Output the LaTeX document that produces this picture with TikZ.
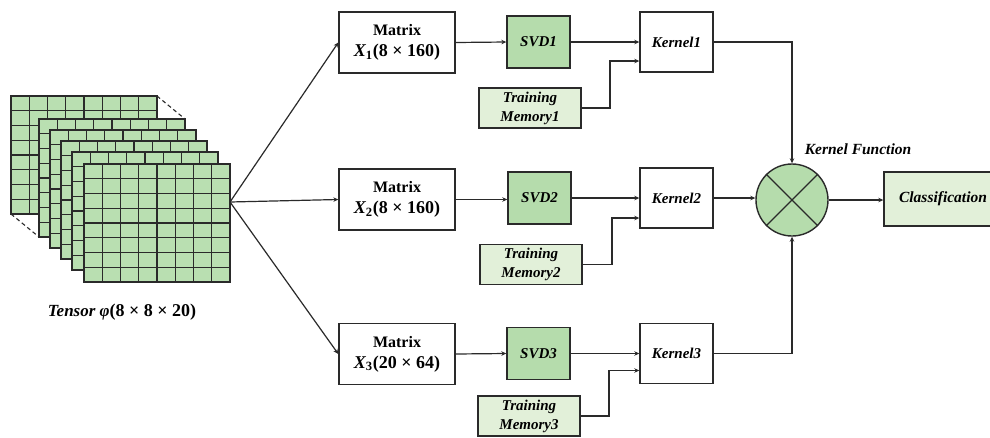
\documentclass[tikz,border=0pt]{standalone}
\usepackage{fontspec}
\setmainfont{Liberation Serif}
\usetikzlibrary{arrows.meta}

\definecolor{svdgreen}{HTML}{B5DCAC}
\definecolor{memgreen}{HTML}{E2F0D9}
\definecolor{cellgreen}{HTML}{B9DFB1}
\definecolor{edgegray}{HTML}{2A2A2A}

\tikzset{
  boxbase/.style={draw=edgegray, line width=1.4pt, rectangle, align=center,
    inner sep=0pt, font=\fontsize{15}{20}\selectfont\bfseries},
  matbox/.style={boxbase, fill=white, minimum width=116pt, minimum height=61pt,
    font=\fontsize{16}{21}\selectfont\bfseries},
  svdbox/.style={boxbase, fill=svdgreen, minimum width=63pt, minimum height=52pt,
    font=\fontsize{15}{20}\selectfont\bfseries\itshape},
  kerbox/.style={boxbase, fill=white, minimum width=73pt, minimum height=60pt,
    font=\fontsize{15}{20}\selectfont\bfseries\itshape},
  membox/.style={boxbase, fill=memgreen, minimum width=102pt, minimum height=40pt,
    font=\fontsize{15}{19}\selectfont\bfseries\itshape},
  clsbox/.style={boxbase, fill=memgreen, minimum width=118pt, minimum height=54pt,
    font=\fontsize{15.5}{20}\selectfont\bfseries\itshape},
  conn/.style={draw=edgegray, line width=1.2pt, -{Stealth[length=5pt,width=4.5pt]}},
  gridline/.style={draw=edgegray, line width=1.3pt},
  dashline/.style={draw=edgegray, line width=1.1pt, dashed, dash pattern=on 4pt off 3pt},
  lbl/.style={font=\fontsize{15}{18}\selectfont\bfseries\itshape, inner sep=0pt}
}

% one 8x8 slice of the tensor, top-left corner at (#1,#2), cells 18 x 14.75
\newcommand\tensorslice[2]{%
  \draw[gridline, fill=cellgreen] (#1,#2) rectangle ++(146,118);
  \foreach \k in {1,...,7}{
    \draw[gridline] (#1+\k*18.25,#2) -- ++(0,118);
    \draw[gridline] (#1,#2+\k*14.75) -- ++(146,0);
  }%
}
% second line of a matrix box
\newcommand\matdim[2]{{\fontsize{18}{21}\selectfont{\itshape X}\textsubscript{#1}(#2)}}

\begin{document}
\begin{tikzpicture}[x=1pt, y=-1pt]
\useasboundingbox (0,0) rectangle (990,437);
\fill[white] (0,0) rectangle (990,437);

% tensor slices, back to front
\tensorslice{11}{96}
\draw[dashline] (157,96) -- (185,119);
\draw[dashline] (11,214) -- (39,237);
\tensorslice{39}{119}
\tensorslice{50}{130}
\tensorslice{61}{141}
\tensorslice{72}{152}
\tensorslice{84}{164}
\coordinate (tout) at (230,202);
\node[lbl, font=\fontsize{17}{20}\selectfont\bfseries\itshape] (tlabel) at (122,312)
  {Tensor φ{\upshape\fontsize{18}{20}\selectfont(8 × 8 × 20)}};

% matrices
\node[matbox] (m1) at (397,42.5) {Matrix\\\matdim{1}{8 × 160}};
\node[matbox] (m2) at (397,199.5) {Matrix\\\matdim{2}{8 × 160}};
\node[matbox] (m3) at (397,354) {Matrix\\\matdim{3}{20 × 64}};

% SVD blocks
\node[svdbox] (s1) at (538.5,42) {SVD1};
\node[svdbox] (s2) at (539.5,198) {SVD2};
\node[svdbox] (s3) at (538.5,353.5) {SVD3};

% kernels
\node[kerbox] (k1) at (676.5,42) {Kernel1};
\node[kerbox] (k2) at (676.5,198) {Kernel2};
\node[kerbox] (k3) at (676.5,353.5) {Kernel3};

% training memories
\node[membox] (t1) at (530,108) {Training\\Memory1};
\node[membox] (t2) at (531,264.5) {Training\\Memory2};
\node[membox] (t3) at (529,416) {Training\\Memory3};

% kernel function combiner
\node[circle, draw=edgegray, line width=1.4pt, fill=svdgreen, minimum size=72pt,
  inner sep=0pt] (kf) at (792,200) {};
\draw[draw=edgegray, line width=1.3pt] (kf.north west) -- (kf.south east);
\draw[draw=edgegray, line width=1.3pt] (kf.north east) -- (kf.south west);
\node[lbl, font=\fontsize{15.5}{18}\selectfont\bfseries\itshape] (kflabel) at (858,149) {Kernel Function};

% classification
\node[clsbox] (cls) at (943,199) {Classification};

% tensor to matrices
\draw[conn] (tout) -- (m1.west);
\draw[conn] (tout) -- (m2.west);
\draw[conn] (tout) -- (m3.west);

% matrices to SVD
\draw[conn] (m1.east) -- (s1.west);
\draw[conn] (m2.east) -- (m2.east -| s2.west);
\draw[conn] (m3.east) -- (s3.west);

% SVD to kernels
\draw[conn] (s1.east) -- (k1.west);
\draw[conn] (s2.east) -- (k2.west);
\draw[conn] (s3.east) -- (k3.west);

% training memories to kernels
\draw[conn] (t1.east) -- (610,108) |- ([yshift=-19pt]k1.west);
\draw[conn] (t2.east) -- (612,264.5) |- ([yshift=-20pt]k2.west);
\draw[conn] (t3.east) -- (609,416) |- ([yshift=-17pt]k3.west);

% kernels to combiner
\draw[conn] (k1.east) -| (kf.north);
\draw[conn] (k2.east) -- (k2.east -| kf.west);
\draw[conn] (k3.east) -| (kf.south);

% combiner to classification
\draw[conn] (kf.east) -- (kf.east -| cls.west);
\end{tikzpicture}
\end{document}
